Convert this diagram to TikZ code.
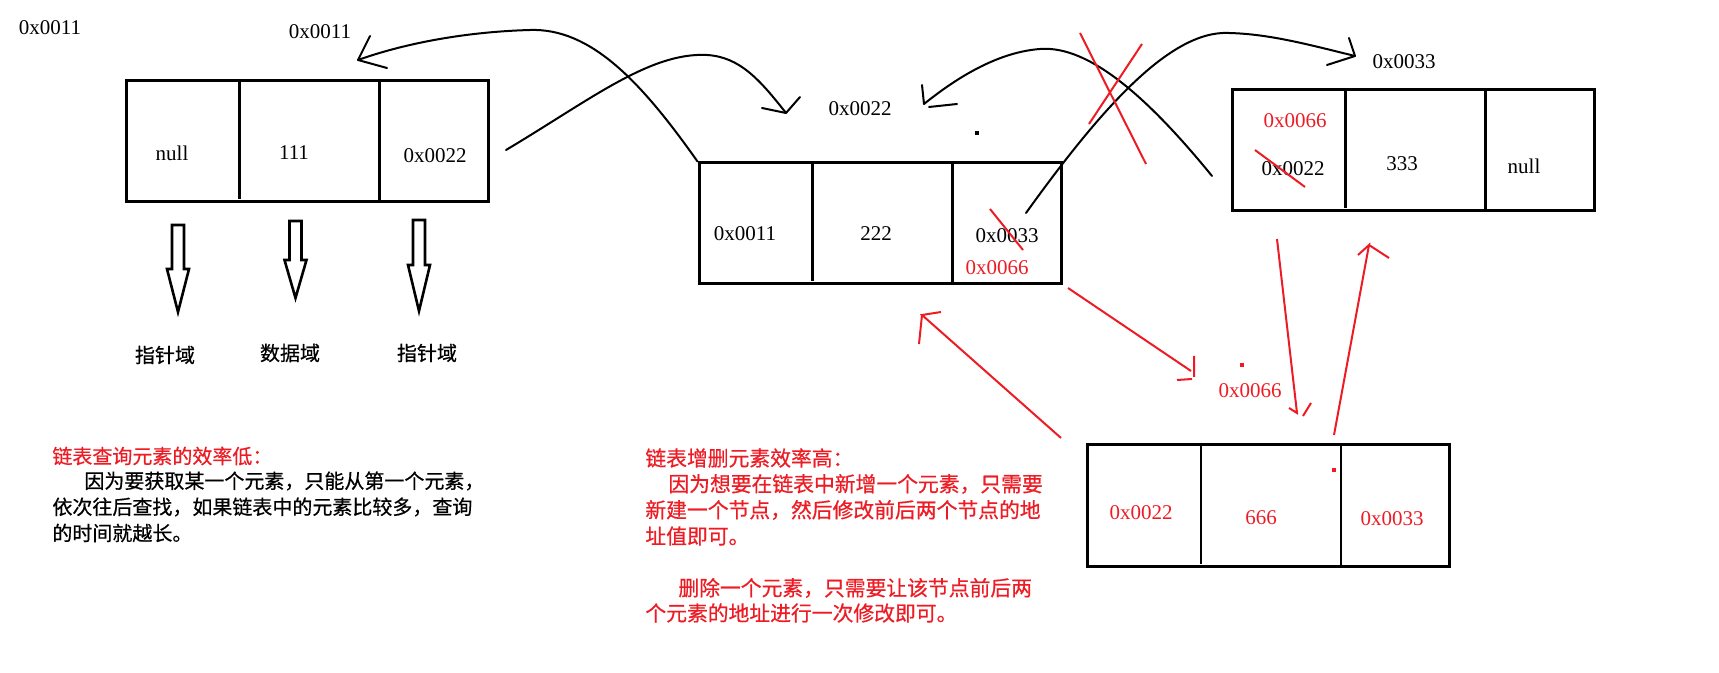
\documentclass[tikz,border=0pt]{standalone}
\usepackage{fontspec}
\setmainfont{Liberation Serif}
\newfontfamily\cjk[FakeBold=0.6]{Noto Sans CJK SC}
\usetikzlibrary{positioning}
\definecolor{paintred}{RGB}{237,28,36}
\tikzset{
  nodebox/.style={draw,line width=1.5pt,minimum width=181pt,minimum height=60.5pt,inner sep=0pt},
  divider/.style={line width=1.3pt},
  addr/.style={font=\fontsize{10.5}{12}\selectfont,inner sep=0pt},
  zh/.style={font=\cjk\fontsize{10}{12}\selectfont,inner sep=0pt,anchor=west},
  zhred/.style={font=\cjk\fontsize{10.4}{12}\selectfont,inner sep=0pt,anchor=west,text=paintred},
  link/.style={line width=1pt,line cap=round},
  redlink/.style={line width=1pt,paintred},
  hollow/.style={draw,line width=1.3pt,line join=miter}
}
\begin{document}
\begin{tikzpicture}[x=0.5pt,y=-0.5pt]
        \useasboundingbox (0,0) rectangle (1719,673);
        \node[nodebox] (box1) at (307,141.5) {};
        \node[nodebox] (box2) at (880,223.5) {};
        \node[nodebox] (box3) at (1413,150.5) {};
        \node[nodebox] (box4) at (1268.5,505.5) {};
        \foreach \b in {box1,box2,box3,box4} {
          \draw[divider] ([xshift=57.5pt,yshift=-1.5pt]\b.north west) -- ([xshift=57.5pt,yshift=2pt]\b.south west);
          \draw[divider] ([xshift=127.5pt]\b.north west) -- ([xshift=127.5pt]\b.south west);
        }
        \node[addr] (a1) at (50,28) {0x0011};
        \node[addr] (lbl1) at (320,32) {0x0011};
        \node[addr] (b1prev) at (172,153) {null};
        \node[addr] (b1data) at (294,153) {111};
        \node[addr] (b1next) at (435,156) {0x0022};
        \node[addr] (lbl2) at (860,109) {0x0022};
        \node[addr] (b2prev) at (745,234) {0x0011};
        \node[addr] (b2data) at (876,234) {222};
        \node[addr] (b2next) at (1007,236) {0x0033};
        \node[addr,text=paintred] (b2new) at (997,268) {0x0066};
        \node[addr] (lbl3) at (1404,62) {0x0033};
        \node[addr,text=paintred] (b3new) at (1295,121) {0x0066};
        \node[addr] (b3prev) at (1293,169) {0x0022};
        \node[addr] (b3data) at (1402,164) {333};
        \node[addr] (b3next) at (1524,166) {null};
        \node[addr,text=paintred] (lbl6) at (1250,391) {0x0066};
        \node[addr,text=paintred] (b6prev) at (1141,513) {0x0022};
        \node[addr,text=paintred] (b6data) at (1261,518) {666};
        \node[addr,text=paintred] (b6next) at (1392,519) {0x0033};
        \coordinate (s12) at (506,150);
        \coordinate (h12) at (786,113);
        \coordinate (s21) at (box2.north west);
        \coordinate (h21) at (358,60);
        \coordinate (s23) at (1026,213);
        \coordinate (h23) at (1355,56);
        \coordinate (s32) at (1212,176);
        \coordinate (h32) at (924,104);
        \draw[link] (s12) .. controls (590,100) and (650,52) .. (707,55) .. controls (740,57) and (760,80) .. (h12);
        \draw[link] (h12) -- ++(-24,-5) (h12) -- ++(14,-16);
        \draw[link] (s21) .. controls (640,80) and (590,28) .. (530,30) .. controls (460,32) and (400,45) .. (h21);
        \draw[link] (h21) -- ++(12,-24) (h21) -- ++(29,8);
        \draw[link] (s23) .. controls (1100,110) and (1170,30) .. (1229,33) .. controls (1270,34) and (1310,45) .. (h23);
        \draw[link] (h23) -- ++(-6,-18) (h23) -- ++(-28,9);
        \draw[link] (s32) .. controls (1150,100) and (1090,45) .. (1040,49) .. controls (1000,52) and (960,75) .. (h32);
        \draw[link] (h32) -- ++(-2,-19) (h32) ++(5,3) -- ++(28,-3);
        \fill (975,131) rectangle (979,135);
        \draw[redlink] (1080,33) -- (1146,164);
        \draw[redlink] (1142,44) -- (1089,124);
        \draw[redlink] (990,209) -- (1023,250);
        \draw[redlink] (1255,150) -- (1305,187);
        \coordinate (s26) at (1068,288);
        \coordinate (h26) at (1194,377);
        \coordinate (s36) at (1277,239);
        \coordinate (h36) at (1297,413);
        \coordinate (s63) at (1334,435);
        \coordinate (h63) at (1369,245);
        \coordinate (s62) at (1061,438);
        \coordinate (h62) at (922,315);
        \draw[redlink] (s26) -- (1191,371);
        \draw[redlink] (h26) ++(0,-21) -- (h26) (h26) ++(-17,3) -- ++(15,-1);
        \draw[redlink] (s36) -- (h36) -- ++(-8,-5) (h36) ++(6,3) -- ++(8,-13);
        \draw[redlink] (s63) -- (h63) -- ++(-11,10) (h63) -- ++(20,13);
        \draw[redlink] (s62) -- (h62) -- ++(19,-3) (h62) -- ++(-3,29);
        \fill[paintred] (1240,363) rectangle (1244,367);
        \fill[paintred] (1332,468) rectangle (1336,472);
        \foreach \ax/\at/\ab/\atip in {178/225/269/312,295.5/221/260/298,419/220/265/311}
          \draw[hollow] (\ax-6,\at) -- (\ax+6,\at) -- (\ax+6,\ab) -- (\ax+11,\ab) -- (\ax,\atip) -- (\ax-11,\ab) -- (\ax-6,\ab) -- cycle;
        \node[zh,anchor=center] (dom1) at (165,355) {指针域};
        \node[zh,anchor=center] (dom2) at (290,353) {数据域};
        \node[zh,anchor=center] (dom3) at (427,353) {指针域};
        \node[zh,text=paintred] (slowhead) at (52,456) {链表查询元素的效率低：};
        \node[zh] (slow1) at (84,481) {因为要获取某一个元素，只能从第一个元素，};
        \node[zh] (slow2) at (52,507) {依次往后查找，如果链表中的元素比较多，查询};
        \node[zh] (slow3) at (52,533) {的时间就越长。};
        \node[zhred] (fasthead) at (645,458) {链表增删元素效率高：};
        \node[zhred] (fast1) at (668,484) {因为想要在链表中新增一个元素，只需要};
        \node[zhred] (fast2) at (645,510) {新建一个节点，然后修改前后两个节点的地};
        \node[zhred] (fast3) at (645,536) {址值即可。};
        \node[zhred] (fast4) at (678,588) {删除一个元素，只需要让该节点前后两};
        \node[zhred] (fast5) at (645,613) {个元素的地址进行一次修改即可。};
      \end{tikzpicture}
\end{document}
